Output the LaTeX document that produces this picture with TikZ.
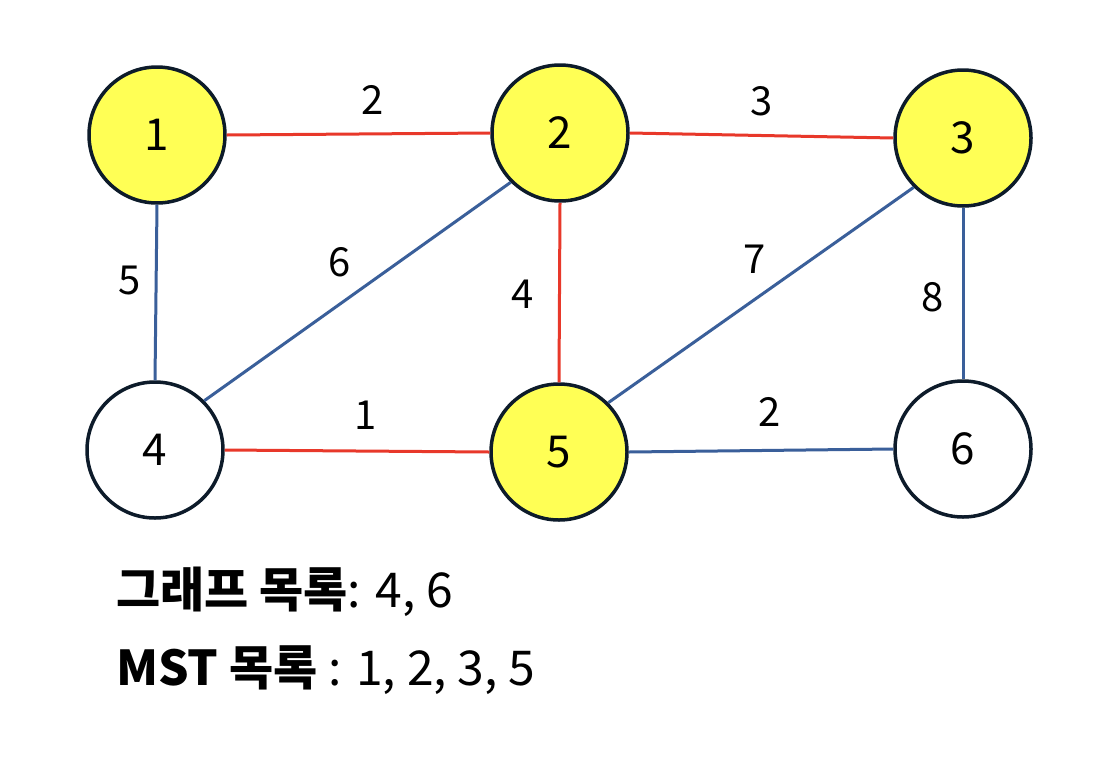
\documentclass[tikz,border=0pt]{standalone}
\usepackage{fontspec}
\setmainfont{Noto Sans CJK KR}
\begin{document}
\begin{tikzpicture}[x=1pt,y=-1pt,
  vtx/.style={circle,draw=nodeline,line width=3.5pt,minimum size=136pt,inner sep=0pt,font=\fontsize{44}{48}\selectfont},
  sel/.style={vtx,fill=nodeyellow},
  unsel/.style={vtx,fill=white},
  redge/.style={draw=edgered,line width=3pt},
  bedge/.style={draw=edgeblue,line width=3pt},
  wlab/.style={font=\fontsize{40}{44}\selectfont,inner sep=0pt},
  caption/.style={anchor=west,inner sep=0pt,font=\fontsize{48}{52}\selectfont}]
\definecolor{nodeyellow}{RGB}{255,255,85}
\definecolor{nodeline}{RGB}{13,27,42}
\definecolor{edgered}{RGB}{232,56,42}
\definecolor{edgeblue}{RGB}{58,95,154}
\useasboundingbox[fill=white] (0,0) rectangle (1110,758);
\node[sel] (n1) at (157,135) {1};
\node[sel] (n2) at (560,133) {2};
\node[sel] (n3) at (963,138) {3};
\node[unsel] (n4) at (155,450) {4};
\node[sel] (n5) at (559,452) {5};
\node[unsel] (n6) at (963,449) {6};
\draw[redge] (n1.east) -- (n2.west);
\draw[redge] (n2.east) -- (n3.west);
\draw[bedge] (n1.south) -- (n4.north);
\draw[bedge] (n2.225) -- (n4.45);
\draw[redge] (n2.south) -- (n5.north);
\draw[redge] (n4.east) -- (n5.west);
\draw[bedge] (n3.225) -- (n5.45);
\draw[bedge] (n3.south) -- (n6.north);
\draw[bedge] (n5.east) -- (n6.west);
\node[wlab] (l12) at (373,100) {2};
\node[wlab] (l23) at (762,101) {3};
\node[wlab] (l14) at (130,280) {5};
\node[wlab] (l24) at (340,262) {6};
\node[wlab] (l25) at (523,294) {4};
\node[wlab] (l35) at (755,259) {7};
\node[wlab] (l36) at (933,297) {8};
\node[wlab] (l45) at (366,415) {1};
\node[wlab] (l56) at (770,412) {2};
\node[caption] (t1) at (116,592) {\textbf{그래프 목록}: 4, 6};
\node[caption] (t2) at (116,670) {\textbf{MST 목록} : 1, 2, 3, 5};
\end{tikzpicture}
\end{document}
